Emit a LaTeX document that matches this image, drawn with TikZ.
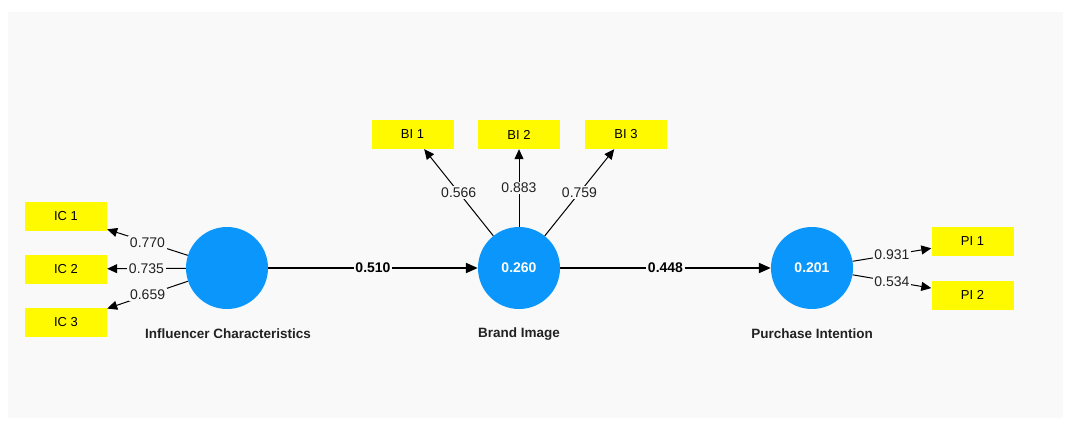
\documentclass[tikz,border=0pt]{standalone}
\usepackage{fontspec}
\setmainfont{Liberation Sans}
\usetikzlibrary{arrows.meta}
\definecolor{panel}{HTML}{F9F9F9}
\definecolor{lvblue}{RGB}{10,150,250}
\definecolor{indyellow}{RGB}{255,250,0}
\definecolor{ink}{HTML}{222222}
\begin{document}
\begin{tikzpicture}[x=1pt,y=-1pt,
  indicator/.style={fill=indyellow, draw=none, minimum width=82pt, minimum height=29pt,
    inner sep=0pt, font=\fontsize{13}{15}\selectfont},
  latent/.style={circle, fill=lvblue, minimum size=82pt, inner sep=0pt, text=white,
    font=\bfseries\fontsize{14}{16}\selectfont},
  caption/.style={text=ink, font=\bfseries\fontsize{13.5}{16}\selectfont},
  loading/.style={-{Triangle[length=10pt,width=9pt]}, line width=1pt},
  structural/.style={-{Triangle[length=12pt,width=10pt]}, line width=2pt},
  lab/.style={fill=panel, text=ink, inner sep=1.5pt, font=\fontsize{14}{16}\selectfont},
  plab/.style={fill=panel, inner sep=1.5pt, font=\bfseries\fontsize{14}{16}\selectfont}]

% canvas
\useasboundingbox (0,0) rectangle (1070,423);
\fill[white] (0,0) rectangle (1070,423);
\fill[panel] (8,12) rectangle (1063,418);

% latent variables
\node[latent] (ic) at (227,268) {};
\node[latent] (bi) at (519,268) {0.260};
\node[latent] (pi) at (812,268) {0.201};

\node[caption] (icname) at (228,334) {Influencer Characteristics};
\node[caption] (biname) at (519,334) {Brand Image};
\node[caption] (piname) at (812,334) {Purchase Intention};

% indicators
\node[indicator] (ic1) at (66,216) {IC 1};
\node[indicator] (ic2) at (66,269) {IC 2};
\node[indicator] (ic3) at (66,322.5) {IC 3};
\node[indicator] (bi1) at (412.5,134.5) {BI 1};
\node[indicator] (bi2) at (519,134.5) {BI 2};
\node[indicator] (bi3) at (626,134.5) {BI 3};
\node[indicator] (pi1) at (972.5,241.5) {PI 1};
\node[indicator] (pi2) at (972.5,295) {PI 2};

% outer loadings
\draw[loading] (ic) -- node[lab] {0.770} (ic1);
\draw[loading] (ic) -- node[lab] {0.735} (ic2);
\draw[loading] (ic) -- node[lab] {0.659} (ic3);
\draw[loading] (bi) -- node[lab] {0.566} (bi1);
\draw[loading] (bi) -- node[lab] {0.883} (bi2);
\draw[loading] (bi) -- node[lab] {0.759} (bi3);
\draw[loading] (pi) -- node[lab] {0.931} (pi1);
\draw[loading] (pi) -- node[lab] {0.534} (pi2);

% path coefficients
\draw[structural] (ic) -- node[plab] {0.510} (bi);
\draw[structural] (bi) -- node[plab] {0.448} (pi);
\end{tikzpicture}
\end{document}
